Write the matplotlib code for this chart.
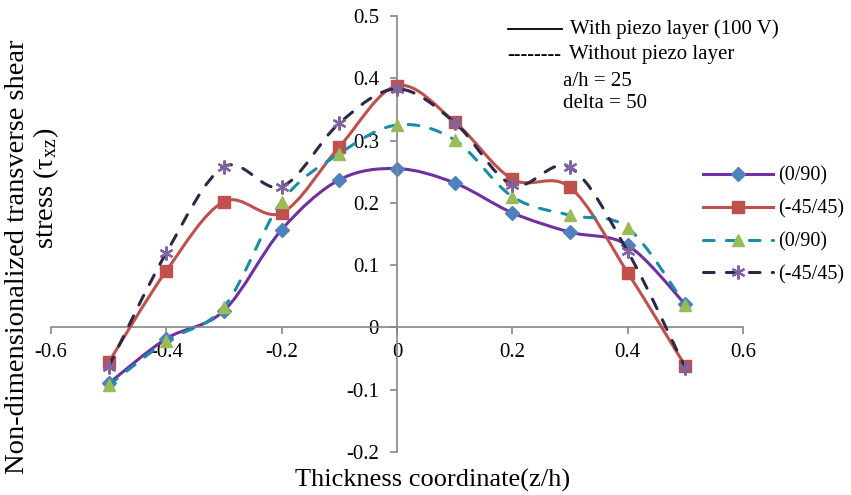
import numpy as np
import matplotlib
matplotlib.use('Agg')
from matplotlib import pyplot as plt
from matplotlib.path import Path
from matplotlib.patches import PathPatch
from matplotlib.lines import Line2D

plt.rcParams['font.family'] = ['Liberation Serif', 'DejaVu Serif']
plt.rcParams['mathtext.fontset'] = 'stix'

# thickness coordinate z/h
z = [-0.5, -0.4, -0.3, -0.2, -0.1, 0.0, 0.1, 0.2, 0.3, 0.4, 0.5]

# with piezo layer (100 V)
with_090 = [-0.090, -0.018, 0.027, 0.157, 0.237, 0.255, 0.232, 0.184, 0.153, 0.132, 0.037]
with_4545 = [-0.056, 0.091, 0.202, 0.184, 0.290, 0.388, 0.330, 0.238, 0.225, 0.088, -0.062]
# without piezo layer
wo_090 = [-0.093, -0.022, 0.033, 0.202, 0.279, 0.325, 0.301, 0.210, 0.180, 0.160, 0.036]
wo_4545 = [-0.063, 0.120, 0.258, 0.226, 0.328, 0.383, 0.329, 0.229, 0.257, 0.122, -0.065]

labels = ['(0/90)', '(-45/45)', '(0/90)', '(-45/45)']


def smooth_path(x, y):
    # excel style smoothed line (bezier through the points)
    pts = np.column_stack([x, y])
    n = len(pts)
    verts = [pts[0]]
    codes = [Path.MOVETO]
    for i in range(n - 1):
        p0 = pts[max(i - 1, 0)]
        p1 = pts[i]
        p2 = pts[i + 1]
        p3 = pts[min(i + 2, n - 1)]
        verts += [p1 + (p2 - p0) / 6, p2 - (p3 - p1) / 6, p2]
        codes += [Path.CURVE4] * 3
    return Path(verts, codes)


fig = plt.figure(figsize=(8.51, 4.95), dpi=100)
ax = fig.add_axes([51 / 851, 1 - 452 / 495, (743 - 51) / 851, (452 - 16) / 495])

dash = (0, (3.5, 4))
series = [
    (with_090, '#7030A0', '-', 'D', '#4F81BD', 7.5, 1),
    (with_4545, '#C0504D', '-', 's', '#C0504D', 8, 1),
    (wo_090, '#1A8CAB', dash, '^', '#9BBB59', 9, 1),
    (wo_4545, '#2E2748', dash, (6, 2, 0), '#8064A2', 10, 1.6),
]

handles = []
for i, (vals, lc, ls, mk, mc, ms, mew) in enumerate(series):
    patch = PathPatch(smooth_path(z, vals), fill=False, edgecolor=lc, lw=2.2,
                      linestyle=ls, capstyle='round', zorder=2 + i)
    ax.add_patch(patch)
    ax.plot(z, vals, linestyle='none', marker=mk, markersize=ms,
            markerfacecolor=mc, markeredgecolor=mc, markeredgewidth=mew, zorder=2.5 + i)
    handles.append(Line2D([], [], color=lc, lw=2.2, linestyle=ls, dash_capstyle='round',
                          marker=mk, markersize=ms, markerfacecolor=mc,
                          markeredgecolor=mc, markeredgewidth=mew))

ax.set_xlim(-0.6, 0.6)
ax.set_ylim(-0.2, 0.5)
ax.set_xticks(np.round(np.arange(-0.6, 0.61, 0.2), 1))
ax.set_yticks(np.round(np.arange(-0.2, 0.51, 0.1), 1))
ax.set_xticklabels(['-0.6', '-0.4', '-0.2', '0', '0.2', '0.4', '0.6'])
ax.set_yticklabels(['-0.2', '-0.1', '0', '0.1', '0.2', '0.3', '0.4', '0.5'])

for s in ['top', 'right']:
    ax.spines[s].set_visible(False)
for s in ['left', 'bottom']:
    ax.spines[s].set_position(('data', 0))
    ax.spines[s].set_color('#868686')
    ax.spines[s].set_linewidth(1.2)
ax.tick_params(colors='#868686', length=5, width=1.2, labelsize=15,
               labelcolor='black')
ax.tick_params(axis='x', pad=6)
ax.tick_params(axis='y', pad=8)
ax.patch.set_alpha(0)

ax.legend(handles, labels, loc='center left', bbox_to_anchor=(703 / 851, 1 - 225.5 / 495),
          bbox_transform=fig.transFigure, frameon=False, fontsize=14.5,
          handlelength=3.5, handletextpad=0.25, labelspacing=0.68,
          borderpad=0, borderaxespad=0)

# annotation block
fig.add_artist(Line2D([508 / 851, 562 / 851], [1 - 29 / 495, 1 - 29 / 495],
                      color='black', lw=1.3))
fig.text(570 / 851, 1 - 29 / 495, 'With piezo layer (100 V)', fontsize=15,
         ha='left', va='center')
fig.text(507 / 851, 1 - 55 / 495, '--------', fontsize=14.5, ha='left', va='center')
fig.text(569 / 851, 1 - 55 / 495, 'Without piezo layer', fontsize=15,
         ha='left', va='center')
fig.text(563 / 851, 1 - 81 / 495, 'a/h = 25', fontsize=15, ha='left', va='center')
fig.text(563 / 851, 1 - 104 / 495, 'delta = 50', fontsize=15, ha='left', va='center')

# axis titles
fig.text(433 / 851, 1 - 480 / 495, 'Thickness coordinate(z/h)', fontsize=19,
         ha='center', va='center')
fig.text(18 / 851, 1 - 257 / 495, 'Non-dimensionalized transverse shear',
         fontsize=20.5, rotation=90, ha='center', va='center')
fig.text(46 / 851, 1 - 188 / 495, r'stress (τ$_{\mathregular{xz}}$)', fontsize=20.5,
         rotation=90, ha='center', va='center')

fig.savefig('out.png', dpi=100)
